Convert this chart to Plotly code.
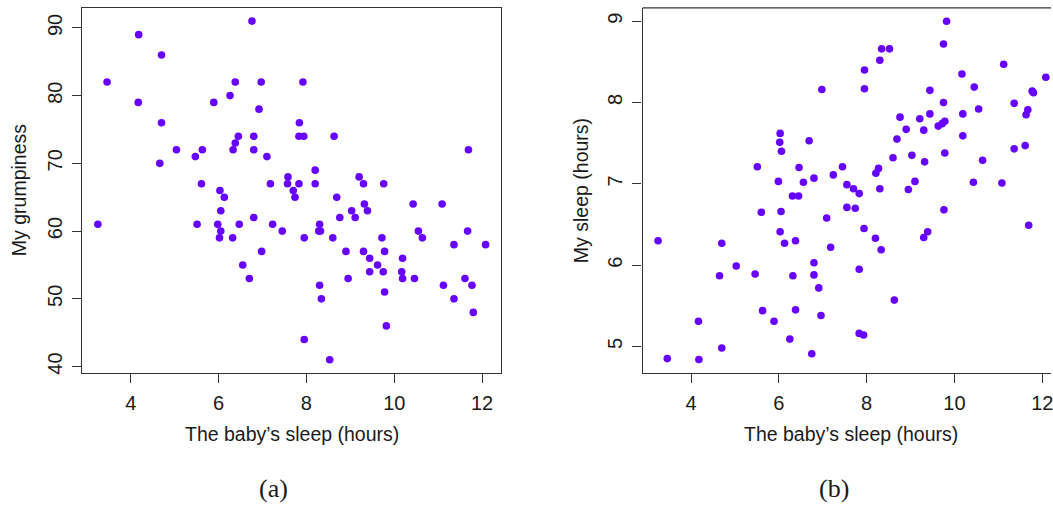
import plotly.graph_objects as go

# ---------------- data ----------------
baby_sleep_a = [6.76, 4.18, 4.70, 3.46, 6.38, 6.97, 7.92, 4.17, 5.89, 6.26,
                6.92, 4.70, 7.84, 6.45, 6.80, 7.83, 7.94, 8.63, 6.38, 5.04,
                5.63, 6.33, 6.80, 11.69, 5.47, 7.10, 4.66, 8.20, 7.58, 9.20,
                5.61, 7.18, 7.57, 7.83, 8.20, 9.30, 9.76, 6.03, 7.70, 6.13,
                7.74, 8.69, 9.32, 10.43, 11.09, 6.05, 9.03, 9.39, 6.80, 8.76,
                9.11, 3.25, 5.51, 5.98, 6.47, 7.23, 8.30, 6.05, 7.45, 8.28,
                8.32, 10.55, 11.67, 6.02, 6.32, 7.95, 8.60, 9.72, 10.64, 11.36,
                12.08, 6.98, 8.90, 9.30, 9.78, 9.44, 10.19, 6.55, 9.62, 9.44,
                9.75, 10.17, 6.70, 8.95, 10.19, 10.46, 11.61, 8.30, 11.12, 11.77,
                9.78, 8.34, 11.36, 11.80, 9.82, 7.95, 8.53]
grumpiness = [91, 89, 86, 82, 82, 82, 82, 79, 79, 80,
              78, 76, 76, 74, 74, 74, 74, 74, 73, 72,
              72, 72, 72, 72, 71, 71, 70, 69, 68, 68,
              67, 67, 67, 67, 67, 67, 67, 66, 66, 65,
              65, 65, 64, 64, 64, 63, 63, 63, 62, 62,
              62, 61, 61, 61, 61, 61, 61, 60, 60, 60,
              60, 60, 60, 59, 59, 59, 59, 59, 59, 58,
              58, 57, 57, 57, 57, 56, 56, 55, 55, 54,
              54, 54, 53, 53, 53, 53, 53, 52, 52, 52,
              51, 50, 50, 48, 46, 44, 41]

baby_sleep_b = [6.98, 6.03, 6.02, 6.06, 6.69, 5.51, 6.46, 7.45, 7.24, 6.80,
                5.99, 6.56, 7.55, 6.31, 6.45, 9.82, 9.75, 8.34, 8.52, 8.30,
                7.95, 7.95, 11.12, 12.08, 10.17, 10.45, 9.44, 11.77, 11.80, 9.75,
                11.36, 11.67, 11.63, 10.55, 10.19, 9.44, 8.76, 9.21, 9.78, 9.72,
                9.63, 8.90, 9.30, 8.69, 10.19, 11.61, 11.36, 8.60, 9.03, 9.32,
                9.78, 10.64, 8.27, 8.21, 7.70, 7.83, 8.30, 9.10, 8.95, 10.43,
                11.08, 5.60, 6.05, 7.55, 7.09, 6.03, 6.13, 6.38, 3.25, 4.70,
                7.18, 6.80, 5.03, 4.65, 5.46, 6.32, 6.80, 6.91, 5.63, 6.38,
                5.89, 6.96, 4.17, 6.25, 4.70, 3.46, 4.18, 6.75, 7.74, 9.76,
                11.69, 7.94, 8.20, 8.33, 9.39, 9.30, 7.83, 8.63, 7.83, 7.93]
my_sleep = [8.16, 7.62, 7.51, 7.40, 7.53, 7.21, 7.20, 7.21, 7.11, 7.07,
            7.03, 7.02, 6.99, 6.85, 6.85, 9.00, 8.72, 8.66, 8.66, 8.52,
            8.40, 8.17, 8.47, 8.31, 8.35, 8.19, 8.15, 8.14, 8.12, 8.00,
            7.99, 7.91, 7.85, 7.92, 7.86, 7.86, 7.82, 7.80, 7.77, 7.74,
            7.71, 7.67, 7.66, 7.55, 7.59, 7.47, 7.43, 7.32, 7.35, 7.27,
            7.38, 7.29, 7.19, 7.13, 6.94, 6.88, 6.94, 7.03, 6.93, 7.02,
            7.01, 6.65, 6.66, 6.71, 6.58, 6.41, 6.27, 6.30, 6.30, 6.27,
            6.22, 6.03, 5.99, 5.87, 5.89, 5.87, 5.88, 5.72, 5.44, 5.45,
            5.31, 5.38, 5.31, 5.09, 4.98, 4.85, 4.84, 4.91, 6.70, 6.68,
            6.49, 6.45, 6.33, 6.19, 6.41, 6.34, 5.95, 5.57, 5.16, 5.14]

x_ticks = [4, 6, 8, 10, 12]
grump_ticks = [40, 50, 60, 70, 80, 90]
sleep_ticks = [5, 6, 7, 8, 9]

x_title = "The baby\u2019s sleep (hours)"
y_title_a = "My grumpiness"
y_title_b = "My sleep (hours)"
captions = ["(a)", "(b)"]

# ---------------- layout geometry ----------------
W, H = 1053, 507
PT, PB = 8, 374              # plot box top / bottom (px)
LA0, LA1 = 82.5, 501.6       # left panel box
LB0 = 643.8                  # right panel box left (right edge is off-canvas)
MARK = "#6600FF"
LINE = "#333333"
SANS = "Liberation Sans, Arial, Helvetica, sans-serif"
SERIF = "Liberation Serif, Times New Roman, serif"

fig = go.Figure()
fig.add_trace(go.Scatter(x=baby_sleep_a, y=grumpiness, mode="markers",
                         marker=dict(color=MARK, size=7.6, line=dict(width=0)),
                         xaxis="x", yaxis="y", showlegend=False))
fig.add_trace(go.Scatter(x=baby_sleep_b, y=my_sleep, mode="markers",
                         marker=dict(color=MARK, size=7.6, line=dict(width=0)),
                         xaxis="x2", yaxis="y2", showlegend=False))

ax_common = dict(showline=True, linecolor=LINE, linewidth=1.3, ticks="outside",
                 ticklen=9, tickwidth=1.3, tickcolor=LINE, showgrid=False,
                 zeroline=False, ticklabeloverflow="allow",
                 tickfont=dict(family=SANS, size=20, color="#1a1a1a"))

ydom = [1 - PB / H, 1 - PT / H]
fig.update_layout(
    width=W, height=H, margin=dict(l=0, r=0, t=0, b=0),
    paper_bgcolor="white", plot_bgcolor="white",
    xaxis=dict(domain=[LA0 / W, LA1 / W], range=[2.897, 12.423], tickvals=x_ticks,
               mirror=True, anchor="y", ticklabelstandoff=3, **ax_common),
    yaxis=dict(domain=ydom, range=[39.12, 92.94], tickvals=grump_ticks, tickangle=-90,
               mirror=True, anchor="x", ticklabelstandoff=2, **ax_common),
    xaxis2=dict(domain=[LB0 / W, 1.0], range=[2.897, 12.198], tickvals=x_ticks,
                mirror=False, anchor="y2", ticklabelstandoff=3, **ax_common),
    yaxis2=dict(domain=ydom, range=[4.679, 9.163], tickvals=sleep_ticks, tickangle=-90,
                mirror=False, anchor="x2", ticklabelstandoff=2, **ax_common),
)

# top border of the right panel (its right side is cut off by the canvas)
fig.add_shape(type="line", xref="paper", yref="paper",
              x0=LB0 / W, x1=1.0, y0=1 - PT / H, y1=1 - PT / H,
              line=dict(color=LINE, width=1.3))

def ann(text, x, y, size=19.5, angle=0, family=SANS):
    fig.add_annotation(text=text, xref="paper", yref="paper", x=x / W, y=1 - y / H,
                       xanchor="center", yanchor="middle", showarrow=False,
                       textangle=angle, font=dict(family=family, size=size, color="#1a1a1a"))

ann(x_title, 292.5, 436)
ann(x_title, 853, 436)
ann(y_title_a, 19, 191, angle=-90)
ann(y_title_b, 582, 191, angle=-90)
ann(captions[0], 274, 490, size=26, family=SERIF)
ann(captions[1], 836, 490, size=26, family=SERIF)

fig.write_html("out.html", config={"displayModeBar": False},
               post_script="document.body.style.margin='0';document.body.style.overflow='hidden';")
